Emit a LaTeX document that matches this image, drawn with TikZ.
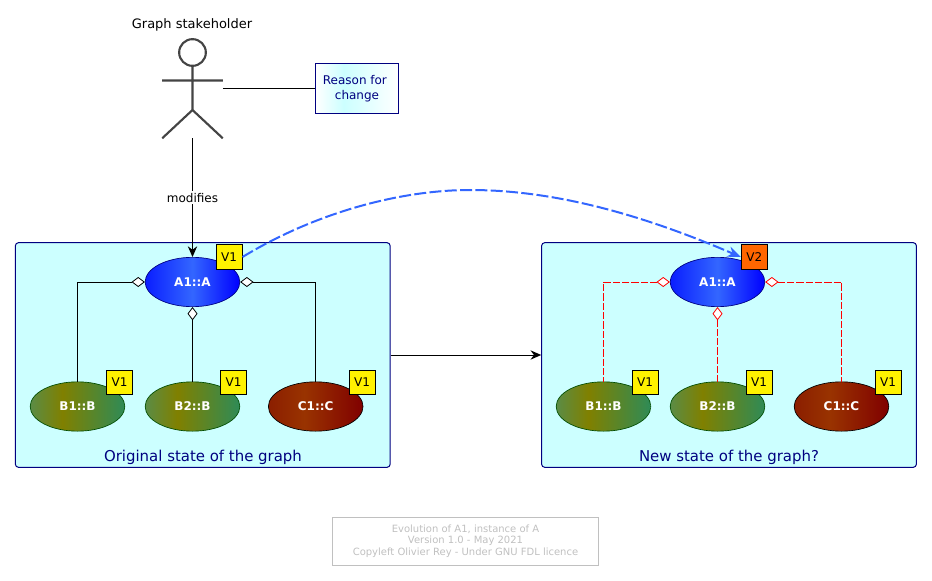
\documentclass[tikz,border=0pt]{standalone}
\usepackage{xcolor}
\usepackage{fontspec}
\setmainfont{DejaVu Sans}
\usetikzlibrary{shapes.geometric, arrows.meta}
\definecolor{framefill}{HTML}{CCFFFF}
\definecolor{framenavy}{HTML}{000080}
\definecolor{linkblue}{HTML}{3366FF}
\definecolor{tagorange}{HTML}{FF6600}
\definecolor{footgrey}{HTML}{C0C0C0}
\definecolor{actorgrey}{HTML}{444444}
\definecolor{olivemid}{HTML}{808000}
\definecolor{greenleft}{HTML}{5A8C46}
\definecolor{greenright}{HTML}{2E8B57}
\definecolor{redleft}{HTML}{8B1E00}
\definecolor{redmid}{HTML}{993300}
\definecolor{redright}{HTML}{800000}
\definecolor{blueleft}{HTML}{0A1EFF}
\pgfdeclarehorizontalshading{classA}{100bp}{color(0bp)=(blueleft); color(25bp)=(blueleft); color(50bp)=(linkblue); color(75bp)=(blue); color(100bp)=(blue)}
\pgfdeclarehorizontalshading{classB}{100bp}{color(0bp)=(greenleft); color(25bp)=(greenleft); color(42bp)=(olivemid); color(75bp)=(greenright); color(100bp)=(greenright)}
\pgfdeclarehorizontalshading{classC}{100bp}{color(0bp)=(redleft); color(25bp)=(redleft); color(44bp)=(redmid); color(75bp)=(redright); color(100bp)=(redright)}
\pgfdeclarehorizontalshading{reasonfill}{100bp}{color(0bp)=(white); color(25bp)=(white); color(42bp)=(framefill); color(75bp)=(white); color(100bp)=(white)}

\begin{document}
\begin{tikzpicture}[
    x=0.75pt, y=-0.75pt,
    frame/.style={draw=framenavy, fill=framefill, rounded corners=2.2pt, line width=0.75pt, minimum width=281pt, minimum height=168.4pt, inner sep=0pt},
    framelabel/.style={text=framenavy, font=\fontsize{11.2}{13}\selectfont, inner sep=0pt},
    inst/.style={ellipse, draw=#1, minimum width=71pt, minimum height=37pt, inner sep=0pt, line width=0.5pt, text=white, font=\fontsize{9}{11}\selectfont\bfseries},
    tag/.style={draw=black, fill=yellow, minimum width=19.5pt, minimum height=18pt, inner sep=0pt, line width=0.75pt, font=\fontsize{9}{11}\selectfont},
    aggr/.style={line width=0.75pt, {Diamond[fill=white, length=10pt, width=7.5pt, line width=0.6pt]}-},
    aggrnew/.style={line width=0.75pt, red, dash pattern=on 5.5pt off 1.5pt, {Diamond[fill=white, length=10pt, width=7.5pt, line width=0.6pt, sep=0pt]}-},
    flow/.style={line width=0.75pt, -{Stealth[length=8pt, width=7pt]}},
]
    \useasboundingbox (0,0) rectangle (932,581);

    \node[frame] (orig) at (202.75,355) {};
    \node[frame] (next) at (729,355) {};
    \node[framelabel] (origlabel) at (203,457) {Original state of the graph};
    \node[framelabel] (nextlabel) at (729,457) {New state of the graph?};

    \node[inst=framenavy, shading=classA] (a1) at (192.5,282) {A1::A};
    \node[inst=black!70!green, shading=classB] (b1) at (77.5,406.5) {B1::B};
    \node[inst=black!70!green, shading=classB] (b2) at (192.5,406.5) {B2::B};
    \node[inst=black, shading=classC] (c1) at (315.7,406.5) {C1::C};

    \node[inst=framenavy, shading=classA] (a1new) at (717.5,282) {A1::A};
    \node[inst=black!70!green, shading=classB] (b1new) at (603.5,406.5) {B1::B};
    \node[inst=black!70!green, shading=classB] (b2new) at (717.5,406.5) {B2::B};
    \node[inst=black, shading=classC] (c1new) at (841.5,406.5) {C1::C};

    \draw[aggr] (a1.west) -| (b1.north);
    \draw[aggr] (a1.south) -- (b2.north);
    \draw[aggr] (a1.east) -| (c1.north);
    \draw[aggrnew] (a1new.west) -| (b1new.north);
    \draw[aggrnew] (a1new.south) -- (b2new.north);
    \draw[aggrnew] (a1new.east) -| (c1new.north);

    \node[tag] (taga1) at (229,257) {V1};
    \node[tag] (tagb1) at (119.5,382) {V1};
    \node[tag] (tagb2) at (233.5,382) {V1};
    \node[tag] (tagc1) at (362,382) {V1};
    \node[tag, fill=tagorange] (taga1new) at (754.3,257) {V2};
    \node[tag] (tagb1new) at (645,382) {V1};
    \node[tag] (tagb2new) at (759,382) {V1};
    \node[tag] (tagc1new) at (888,382) {V1};

    \node[minimum width=45pt, minimum height=74.25pt, inner sep=0pt] (holder) at (192.5,88.5) {};
    \node[font=\fontsize{9.75}{12}\selectfont, inner sep=0pt] (holderlabel) at (192,25) {Graph stakeholder};
    \draw[actorgrey, line width=1.6pt]
        (192.5,52.5) circle [radius=10pt]
        (192.5,66) -- (192.5,110)
        (holder.west |- 0,80.5) -- (holder.east |- 0,80.5)
        (holder.south west) -- (192.5,110) -- (holder.south east);

    \node[draw=framenavy, shading=reasonfill, minimum width=62pt, minimum height=37pt, inner sep=0pt, line width=0.75pt, align=center, text=framenavy, font=\fontsize{9}{11}\selectfont] (reason) at (357,88.5) {Reason for\hspace*{0.35em}\\change};
    \draw[line width=0.75pt] (holder) -- (reason);

    \draw[flow] (holder) -- (a1) node[pos=0.5, fill=white, inner sep=1.5pt, text=black, font=\fontsize{9}{11}\selectfont] (modlabel) at (192.5,197.5) {modifies};
    \draw[flow] (orig) -- (next);

    \draw[linkblue, line width=1.5pt, dash pattern=on 9pt off 2.5pt, -{Stealth[length=10pt, width=8pt]}]
        (taga1.east) .. controls (320,210) and (405,190) .. (470,190) .. controls (560,190) and (650,218) .. (taga1new.west);

    \node[draw=footgrey, minimum width=199.5pt, minimum height=36pt, inner sep=0pt, line width=0.75pt, align=center, text=footgrey, font=\fontsize{7.5}{8.7}\selectfont] (footer) at (465.5,541) {Evolution of A1, instance of A\\Version 1.0 - May 2021\\Copyleft Olivier Rey - Under GNU FDL licence};
\end{tikzpicture}
\end{document}
